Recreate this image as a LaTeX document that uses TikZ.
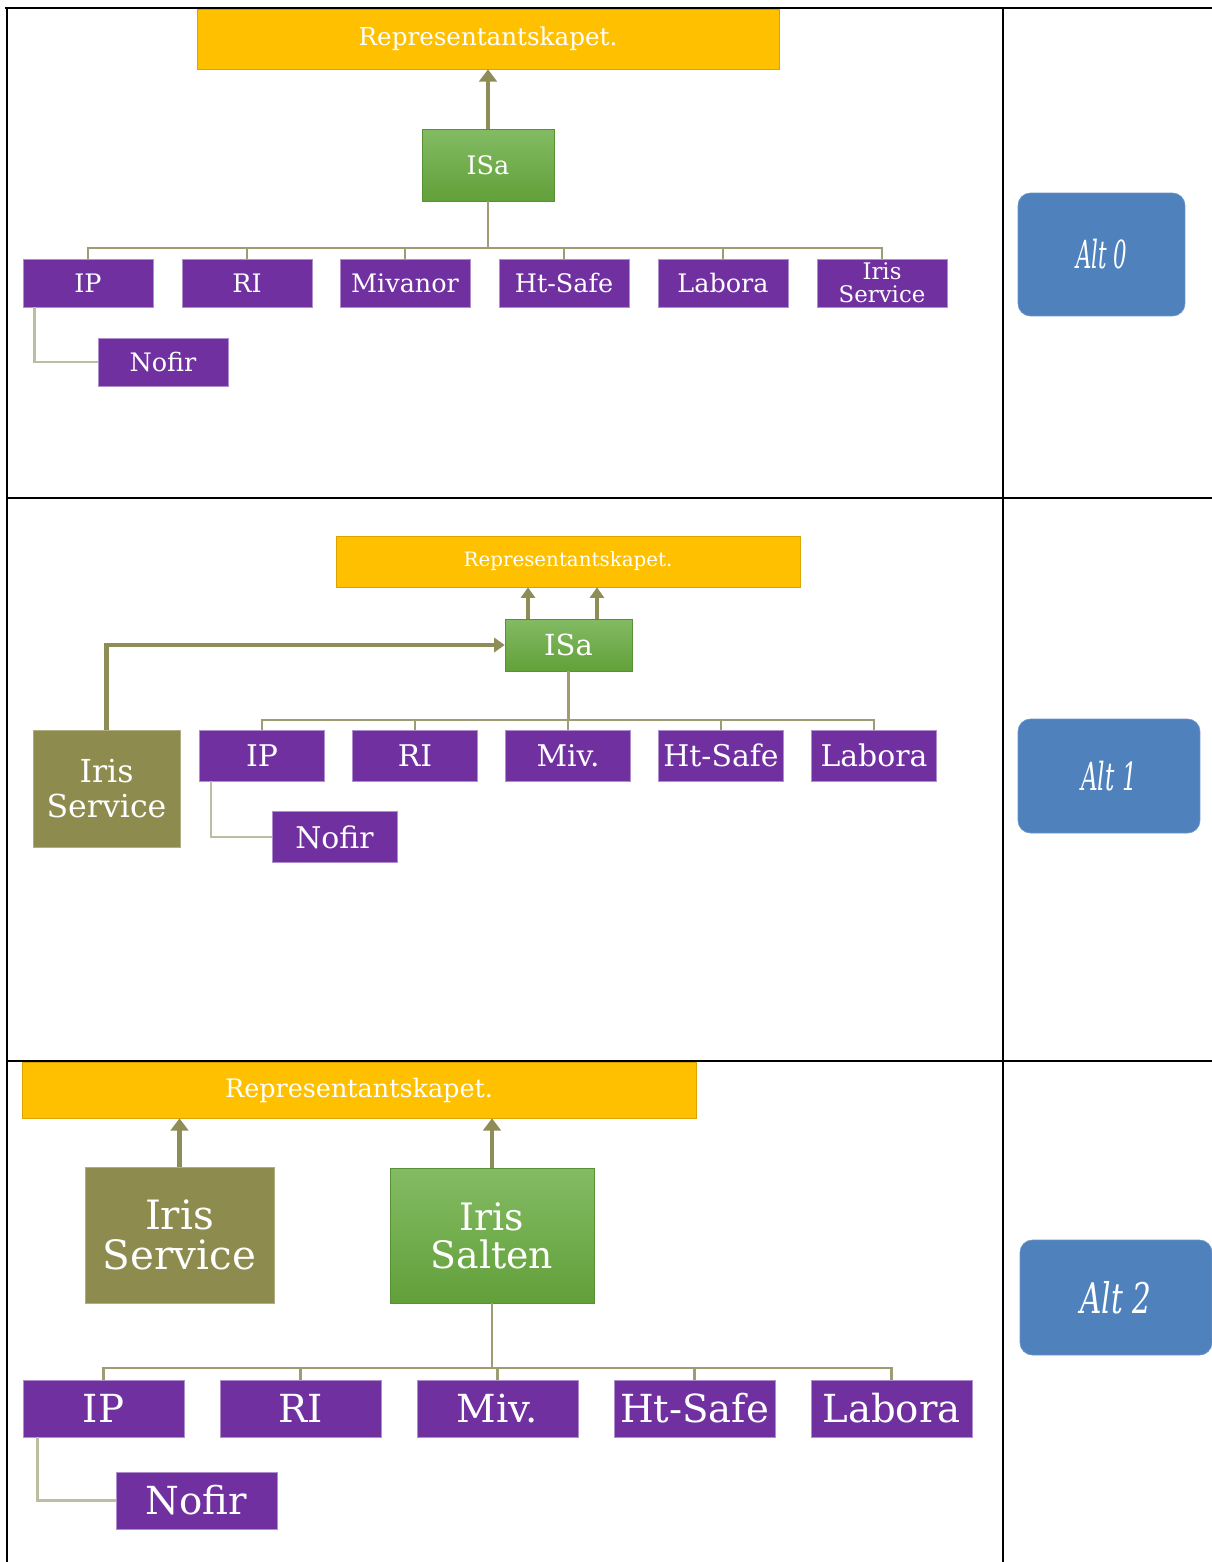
\documentclass[tikz,border=0pt]{standalone}
\usepackage{fontspec}
\usepackage{graphicx}
\setmainfont{DejaVu Serif}
\usetikzlibrary{arrows.meta}
\definecolor{repgold}{HTML}{FFC000}
\definecolor{orgpurple}{HTML}{7030A0}
\definecolor{isagreenT}{HTML}{83BB63}
\definecolor{isagreenB}{HTML}{62A03A}
\definecolor{olivebox}{HTML}{8D8B4E}
\definecolor{olivearrow}{HTML}{8E8C57}
\definecolor{olivethin}{HTML}{9E9C72}
\definecolor{olivefaint}{HTML}{BDBDA2}
\definecolor{altblue}{HTML}{4F81BD}

\begin{document}
\begin{tikzpicture}[x=0.02cm,y=-0.02cm,
    rep/.style={rectangle,fill=repgold,draw=repgold!85!black,line width=0.4pt,text=white,inner sep=0pt},
    grn/.style={rectangle,top color=isagreenT,bottom color=isagreenB,draw=isagreenB!90!black,line width=0.3pt,text=white,inner sep=0pt,align=center},
    olv/.style={rectangle,fill=olivebox,draw=olivebox!70!white,line width=0.5pt,text=white,inner sep=0pt,align=center},
    unit/.style={rectangle,fill=orgpurple,draw=orgpurple!55!white,line width=0.5pt,text=white,inner sep=0pt,align=center},
    unitA/.style={unit,minimum width=2.6cm,minimum height=0.96cm,font=\fontsize{14.5}{14.5}\selectfont},
    unitB/.style={unit,minimum width=2.5cm,minimum height=1.02cm,font=\fontsize{17}{17}\selectfont},
    unitC/.style={unit,minimum width=3.22cm,minimum height=1.14cm,font=\fontsize{22}{22}\selectfont},
    alt/.style={rectangle,rounded corners=0.25cm,fill=altblue,draw=altblue!85!white,text=white,inner sep=0pt,font=\itshape},
    up/.style={-{Triangle[width=10pt,length=7pt]},line width=2.8pt,draw=olivearrow},
    upB/.style={-{Triangle[width=8pt,length=6pt]},line width=2.6pt,draw=olivearrow},
    tree/.style={draw=olivethin,line width=1.3pt},
    sub/.style={draw=olivefaint,line width=1.3pt},
    grid/.style={line width=1.6pt}]
    \useasboundingbox (0,0) rectangle (1212,1562);
    \draw[grid] (5,8) -- (1212,8);
    \draw[grid] (7,8) -- (7,1562);
    \draw[grid] (1003,8) -- (1003,1562);
    \draw[grid] (7,498) -- (1212,498);
    \draw[grid] (7,1061) -- (1212,1061);

    \node [rep, minimum width=11.64cm, minimum height=1.2cm, font=\fontsize{14}{14}\selectfont] (rep1) at (488,39) {Representantskapet.};
    \node [grn, minimum width=2.64cm, minimum height=1.44cm, font=\fontsize{14.5}{14.5}\selectfont] (isa1) at (488,165) {ISa};
    \node [unitA] (ip1) at (88,283) {IP};
    \node [unitA] (ri1) at (247,283) {RI};
    \node [unitA] (miv1) at (405,283) {Mivanor};
    \node [unitA] (hts1) at (564,283) {Ht-Safe};
    \node [unitA] (lab1) at (723,283) {Labora};
    \node [unitA, font=\fontsize{13}{13}\selectfont] (iss1) at (882,283) {Iris\\Service};
    \node [unitA] (nof1) at (163,362) {Nofir};
    \node [alt, minimum width=3.34cm, minimum height=2.46cm] (alt0) at (1101.5,254.5) {\scalebox{0.55}[1]{\fontsize{22}{22}\selectfont Alt 0}};
    \draw[up] (isa1.north) -- (rep1.south);
    \draw[tree] (isa1.south) -- ++(0,47) coordinate (bus1);
    \foreach \n in {ip1,ri1,miv1,hts1,lab1,iss1}
        \draw[tree] (bus1) -| (\n.north);
    \draw[sub] ([xshift=0.24cm]ip1.south west) |- (nof1.west);

    \node [rep, minimum width=9.28cm, minimum height=1.02cm, font=\fontsize{11.3}{11.3}\selectfont] (rep2) at (568,561.5) {Representantskapet.};
    \node [grn, minimum width=2.54cm, minimum height=1.04cm, font=\fontsize{16.5}{16.5}\selectfont] (isa2) at (568.5,645) {ISa};
    \node [olv, minimum width=2.94cm, minimum height=2.34cm, font=\fontsize{18}{20}\selectfont] (irs2) at (106.5,788.5) {Iris\\Service};
    \node [unitB] (ip2) at (262,755.5) {IP};
    \node [unitB] (ri2) at (415,755.5) {RI};
    \node [unitB] (miv2) at (568,755.5) {Miv.};
    \node [unitB] (hts2) at (721,755.5) {Ht-Safe};
    \node [unitB] (lab2) at (874,755.5) {Labora};
    \node [unitB] (nof2) at (334.5,837) {Nofir};
    \node [alt, minimum width=3.64cm, minimum height=2.28cm] (alt1) at (1109,776) {\scalebox{0.6}[1]{\fontsize{22}{22}\selectfont Alt 1}};
    \draw[upB] ([xshift=-0.81cm]isa2.north) -- ([xshift=-0.81cm]isa2.north |- rep2.south);
    \draw[upB] ([xshift=0.57cm]isa2.north) -- ([xshift=0.57cm]isa2.north |- rep2.south);
    \draw[upB] (irs2.north) |- (isa2.west);
    \draw[tree] (isa2.south) -- ++(0,49) coordinate (bus2);
    \foreach \n in {ip2,ri2,miv2,hts2,lab2}
        \draw[tree] (bus2) -| (\n.north);
    \draw[sub] ([xshift=0.24cm]ip2.south west) |- (nof2.west);

    \node [rep, minimum width=13.48cm, minimum height=1.12cm, font=\fontsize{14.5}{14.5}\selectfont] (rep3) at (359,1090) {Representantskapet.};
    \node [olv, minimum width=3.78cm, minimum height=2.72cm, font=\fontsize{23}{23}\selectfont] (irs3) at (179.5,1235) {Iris\\Service};
    \node [grn, minimum width=4.08cm, minimum height=2.7cm, font=\fontsize{21.5}{21.5}\selectfont] (sal3) at (492,1235.5) {Iris\\Salten};
    \node [unitC] (ip3) at (103.5,1408.5) {IP};
    \node [unitC] (ri3) at (300.5,1408.5) {RI};
    \node [unitC] (miv3) at (497.5,1408.5) {Miv.};
    \node [unitC] (hts3) at (694.5,1408.5) {Ht-Safe};
    \node [unitC] (lab3) at (891.5,1408.5) {Labora};
    \node [unitC] (nof3) at (196.5,1500.5) {Nofir};
    \node [alt, minimum width=3.84cm, minimum height=2.3cm] (alt2) at (1116,1297.5) {\scalebox{0.7}[1]{\fontsize{24}{24}\selectfont Alt 2}};
    \draw[up] (irs3.north) -- (irs3.north |- rep3.south);
    \draw[up] (sal3.north) -- (sal3.north |- rep3.south);
    \draw[tree] (sal3.south) -- ++(0,65) coordinate (bus3);
    \foreach \n in {ip3,ri3,miv3,hts3,lab3}
        \draw[tree] (bus3) -| (\n.north);
    \draw[sub] ([xshift=0.3cm]ip3.south west) |- (nof3.west);
\end{tikzpicture}
\end{document}
